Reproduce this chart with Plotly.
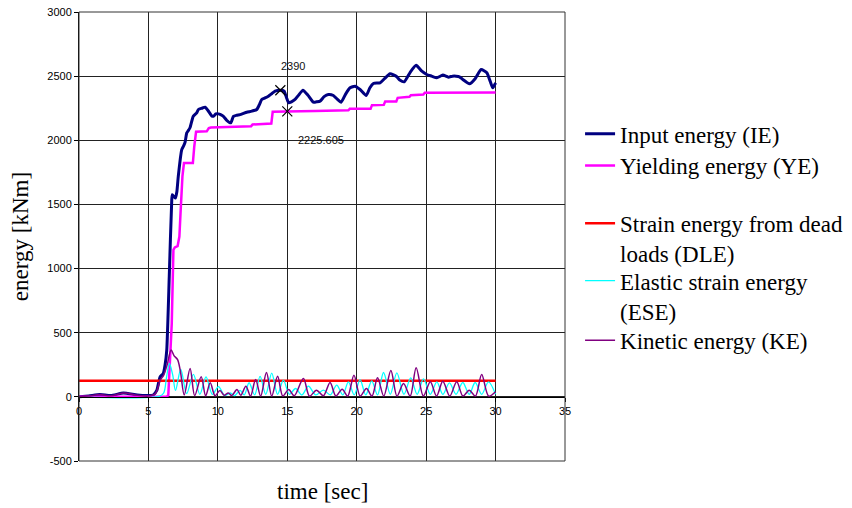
import plotly.graph_objects as go

# ---- time histories (t in sec, energy in kNm) ----
ie_t = [0, 0.7, 1.5, 2.3, 3.2, 4.2, 5.0, 5.35, 5.6, 5.84, 6.07, 6.2, 6.32, 6.5, 6.68, 6.72,
        6.85, 6.95, 7.05, 7.15, 7.3, 7.4, 7.55, 7.64, 7.76, 7.87, 8.0, 8.23, 8.48, 8.6, 8.85,
        9.08, 9.3, 9.56, 9.68, 9.85, 10.04, 10.2, 10.4, 10.64, 10.93, 11.12, 11.35, 11.6,
        11.85, 12.08, 12.44, 12.8, 13.0, 13.16, 13.4, 13.64, 13.9, 14.12, 14.5, 14.77, 14.95,
        15.1, 15.3, 15.56, 15.8, 16.13, 16.5, 16.88, 17.1, 17.36, 17.65, 17.96, 18.32, 18.6,
        18.88, 19.2, 19.52, 19.88, 20.24, 20.68, 20.95, 21.2, 21.68, 22.0, 22.4, 22.89, 23.1,
        23.42, 23.85, 24.28, 24.69, 25.04, 25.4, 25.77, 26.2, 26.6, 26.9, 27.16, 27.4, 27.64,
        28.12, 28.53, 28.96, 29.37, 29.61, 29.8, 30.0]
ie_v = [0, 6, 18, 10, 30, 14, 10, 15, 50, 156, 183, 250, 365, 937, 1537, 1576,
        1560, 1550, 1600, 1719, 1860, 1927, 1960, 1985, 2058, 2075, 2100, 2187, 2214, 2240, 2250,
        2258, 2230, 2190, 2187, 2205, 2206, 2200, 2187, 2156, 2136, 2187, 2195, 2200,
        2210, 2219, 2227, 2240, 2280, 2318, 2330, 2344, 2365, 2383, 2390, 2383, 2330,
        2292, 2300, 2318, 2350, 2391, 2350, 2297, 2300, 2305, 2340, 2357, 2349, 2320,
        2297, 2360, 2409, 2422, 2396, 2349, 2410, 2443, 2448, 2480, 2519, 2495, 2470,
        2456, 2530, 2584, 2539, 2513, 2500, 2487, 2508, 2492, 2500, 2500, 2495, 2474,
        2440, 2480, 2552, 2526, 2461, 2409, 2448]

ye_t = [0, 6.3, 6.43, 6.68, 6.8, 6.9, 7.1, 7.23, 7.32, 7.45, 7.56, 8.2, 8.3, 8.43, 9.2, 9.35,
        9.5, 12.4, 12.5, 13.85, 13.95, 15.0, 17.0, 19.4, 19.5, 21.0, 21.1, 21.95, 22.05,
        22.85, 22.95, 23.8, 23.9, 24.8, 24.9, 30.0]
ye_v = [0, 0, 13, 573, 1146, 1165, 1175, 1250, 1450, 1720, 1823, 1823, 1950, 2066, 2070, 2095,
        2100, 2110, 2123, 2130, 2222, 2225.605, 2228, 2234, 2245, 2245, 2274, 2276, 2302,
        2303, 2331, 2339, 2352, 2357, 2370, 2372]

dle_t = [0, 30]
dle_v = [125, 125]

ese_t = [0, 5.8, 6.1, 6.3, 6.51, 6.75, 6.95, 7.33, 7.75, 8.24, 8.7, 9.15, 9.6, 10.05, 10.5,
         10.9, 11.2, 11.6, 11.9, 12.25, 12.65, 13.04, 13.45, 13.88, 14.3, 14.72, 15.15, 15.6,
         16.05, 16.52, 17.05, 17.6, 18.1, 18.56, 19.0, 19.4, 19.82, 20.24, 20.65, 21.08, 21.5,
         21.93, 22.42, 22.89, 23.4, 23.89, 24.35, 24.81, 25.3, 25.77, 26.2, 26.68, 27.15,
         27.64, 28.1, 28.53, 29.0, 29.49, 30.0]
ese_v = [0, 5, 30, 150, 260, 170, 50, 215, 25, 175, 20, 156, 20, 80, 10,
         30, 10, 50, 15, 110, 15, 160, 20, 185, 20, 130, 20, 65,
         15, 83, 15, 52, 15, 91, 15, 117, 15, 135, 15, 125, 15,
         190, 20, 187, 20, 148, 20, 140, 20, 117, 20, 109, 20,
         112, 20, 112, 20, 117, 20]

ke_t = [0, 0.7, 1.5, 2.3, 3.2, 4.2, 5.0, 5.5, 5.85, 6.1, 6.35, 6.63, 6.85, 7.1, 7.3, 7.58,
        8.0, 8.33, 8.8, 9.12, 9.45, 9.8, 10.15, 10.45, 10.75, 11.0, 11.38, 11.65, 12.02,
        12.35, 12.72, 13.08, 13.5, 13.88, 14.3, 14.68, 15.1, 15.5, 16.16, 16.6, 17.1, 17.6,
        18.08, 18.5, 18.95, 19.35, 19.8, 20.25, 20.7, 21.1, 21.5, 21.95, 22.46, 22.9, 23.37,
        23.85, 24.28, 24.8, 25.3, 25.75, 26.2, 26.7, 27.2, 27.65, 28.1, 28.55, 29.0, 29.5, 30.0]
ke_v = [0, 6, 18, 8, 30, 12, 6, 25, 130, 170, 250, 365, 320, 290, 200, 15,
        221, 10, 156, 8, 110, 8, 50, 12, 30, 10, 57, 12, 83,
        6, 135, 6, 190, 6, 160, 6, 57, 8, 143, 5, 52, 8,
        112, 6, 60, 6, 169, 6, 65, 6, 148, 6, 205, 6, 104,
        6, 227, 6, 117, 6, 122, 6, 117, 6, 52, 6, 174, 6, 40]

# marked points and their labels
mark_t = [14.5, 15.0]
mark_v = [2390, 2225.605]
mark_txt = ["2390", "2225.605"]

x_ticks = [0, 5, 10, 15, 20, 25, 30, 35]
y_ticks = [-500, 0, 500, 1000, 1500, 2000, 2500, 3000]

SERIF = "Liberation Serif, Times New Roman, serif"
SANS = "Liberation Sans, Arial, sans-serif"

fig = go.Figure()

fig.add_trace(go.Scatter(x=ie_t, y=ie_v, mode="lines", name="Input energy (IE)",
                         line=dict(color="#000080", width=3, shape="spline", smoothing=0.5),
                         legend="legend"))
fig.add_trace(go.Scatter(x=ye_t, y=ye_v, mode="lines", name="Yielding energy (YE)",
                         line=dict(color="#FF00FF", width=2.5), legend="legend2"))
fig.add_trace(go.Scatter(x=dle_t, y=dle_v, mode="lines",
                         name="Strain energy from dead<br>loads (DLE)",
                         line=dict(color="#FF0000", width=2.5), legend="legend3"))
fig.add_trace(go.Scatter(x=ese_t, y=ese_v, mode="lines",
                         name="Elastic strain energy<br>(ESE)",
                         line=dict(color="#00FFFF", width=1.3, shape="spline", smoothing=0.9),
                         legend="legend4"))
fig.add_trace(go.Scatter(x=ke_t, y=ke_v, mode="lines", name="Kinetic energy (KE)",
                         line=dict(color="#800080", width=1.5, shape="spline", smoothing=0.9),
                         legend="legend5"))
fig.add_trace(go.Scatter(x=mark_t, y=mark_v, mode="markers", showlegend=False,
                         marker=dict(symbol="x-thin-open", size=10, color="black",
                                     line=dict(color="black", width=1.2))))

fig.add_annotation(x=mark_t[0], y=mark_v[0], text=mark_txt[0], showarrow=False,
                   xshift=13, yshift=24, font=dict(family=SANS, size=11, color="#111"))
fig.add_annotation(x=mark_t[1], y=mark_v[1], text=mark_txt[1], showarrow=False,
                   xshift=34, yshift=-29, font=dict(family=SANS, size=11, color="#111"))

# axis titles
fig.add_annotation(xref="paper", yref="paper", x=-0.12, y=0.50, text="energy [kNm]",
                   textangle=-90, showarrow=False, xanchor="center", yanchor="middle",
                   font=dict(family=SERIF, size=23, color="black"))
fig.add_annotation(xref="paper", yref="paper", x=0.50, y=-0.069, text="time [sec]",
                   showarrow=False, xanchor="center", yanchor="middle",
                   font=dict(family=SERIF, size=23, color="black"))

# frame around the plotting area
fig.add_shape(type="rect", xref="paper", yref="paper", x0=0, y0=0, x1=1, y1=1,
              line=dict(color="#333", width=1))

legend_font = dict(family=SERIF, size=23, color="black")
common = dict(xref="paper", yref="paper", xanchor="left", yanchor="middle",
              bgcolor="rgba(0,0,0,0)", borderwidth=0, font=legend_font,
              itemwidth=30, itemclick=False, itemdoubleclick=False)
LX = 1.031

fig.update_layout(
    width=852, height=508,
    margin=dict(l=79, r=287, t=12, b=47, autoexpand=False),
    paper_bgcolor="white", plot_bgcolor="white",
    legend=dict(x=LX, y=0.729, **common),
    legend2=dict(x=LX, y=0.658, **common),
    legend3=dict(x=LX, y=0.496, valign="top", **common),
    legend4=dict(x=LX, y=0.368, valign="top", **common),
    legend5=dict(x=LX, y=0.269, **common),
    xaxis=dict(range=[0, 35], tickvals=x_ticks, ticktext=[str(v) for v in x_ticks],
               showgrid=True, gridcolor="#222",
               gridwidth=1, zeroline=False, showline=True, linecolor="black",
               linewidth=1, ticks="outside", ticklen=4, tickcolor="black",
               anchor="free", position=500 / 3500,
               tickfont=dict(family=SANS, size=11, color="black")),
    yaxis=dict(range=[-500, 3000], tickvals=y_ticks, ticktext=[str(v) for v in y_ticks],
               showgrid=True, gridcolor="#222",
               gridwidth=1, zeroline=False, showline=True, linecolor="black",
               linewidth=1, ticks="outside", ticklen=4, tickcolor="black",
               tickfont=dict(family=SANS, size=11, color="black")),
)

fig.write_html("out.html")
